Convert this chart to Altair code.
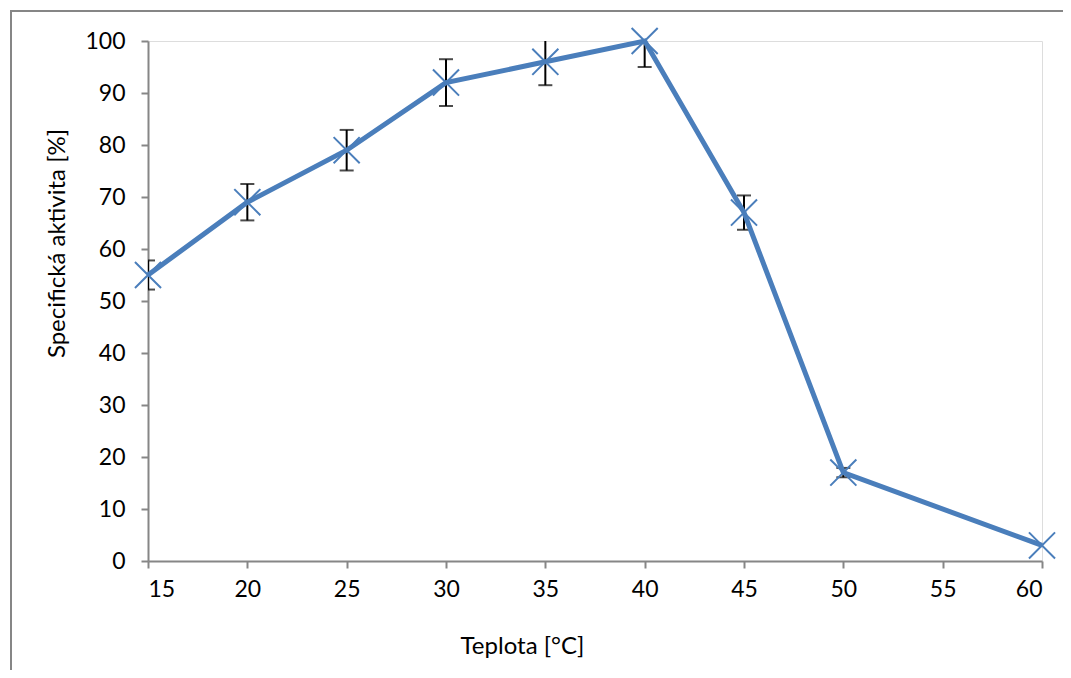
import altair as alt
import pandas as pd

temps = [15, 20, 25, 30, 35, 40, 45, 50, 60]
activity = [55, 69, 79, 92, 96, 100, 67, 17, 3]
errors = [2.8, 3.5, 3.9, 4.5, 4.5, 5.0, 3.3, 0.9, 0.0]

x_ticks = [15, 20, 25, 30, 35, 40, 45, 50, 55, 60]
y_ticks = [0, 10, 20, 30, 40, 50, 60, 70, 80, 90, 100]

df = pd.DataFrame({"t": temps, "a": activity, "e": errors})

FONT = "Lato"
BLUE = "#4A7EBB"
GREY = "#868686"
FS = 23
TFS = 24

x_enc = alt.X("t:Q", scale=alt.Scale(domain=[15, 60], nice=False, zero=False),
              axis=alt.Axis(values=x_ticks, title="Teplota [°C]", grid=False,
                            domainColor=GREY, domainWidth=2, tickColor=GREY, tickWidth=2,
                            tickSize=7, labelFontSize=FS, titleFontSize=TFS,
                            labelPadding=10, titlePadding=33, labelColor="black",
                            titleColor="black", titleFontWeight="normal",
                            titleX=374, titleAnchor="middle", titleAlign="center",
                            labelFont=FONT, titleFont=FONT))
y_enc = alt.Y("a:Q", scale=alt.Scale(domain=[0, 100], nice=False),
              axis=alt.Axis(values=y_ticks, title="Specifická aktivita [%]", grid=False,
                            domainColor=GREY, domainWidth=2, tickColor=GREY, tickWidth=2,
                            tickSize=7, labelFontSize=FS, titleFontSize=TFS,
                            labelPadding=16, titlePadding=15, labelColor="black",
                            titleColor="black", titleFontWeight="normal",
                            titleY=202, titleAlign="center",
                            labelFont=FONT, titleFont=FONT))

base = alt.Chart(df).transform_calculate(lo="datum.a - datum.e", hi="datum.a + datum.e")

err_rule = base.transform_filter("datum.e > 0").mark_rule(
    color="black", strokeWidth=2, clip=True).encode(x=x_enc, y=alt.Y("lo:Q"), y2="hi:Q")
cap_lo = base.transform_filter("datum.e > 0").mark_tick(
    color="black", thickness=2, size=14, orient="horizontal", clip=True).encode(x="t:Q", y="lo:Q")
cap_hi = base.transform_filter("datum.e > 0").mark_tick(
    color="black", thickness=2, size=14, orient="horizontal", clip=True).encode(x="t:Q", y="hi:Q")

line = base.mark_line(color=BLUE, strokeWidth=5).encode(x=x_enc, y=y_enc)
pts = base.mark_point(shape="M-1,-1L1,1M-1,1L1,-1", filled=False, color=BLUE,
                      strokeWidth=2, size=680, opacity=1).encode(x="t:Q", y="a:Q")

frame = alt.Chart(df).mark_rect(fill=None, stroke=GREY, strokeWidth=2).encode(
    x=alt.value(-137), x2=alt.value(1000), y=alt.value(-30), y2=alt.value(800))

chart = alt.layer(frame, err_rule, cap_lo, cap_hi, line, pts).properties(
    width=894, height=520,
    autosize=alt.AutoSizeParams(type="none"),
    padding={"left": 140, "top": 33, "right": 21, "bottom": 109},
).configure_view(stroke=None).configure(background="white")

chart.save("out.html", embed_options={"renderer": "svg", "actions": False})
